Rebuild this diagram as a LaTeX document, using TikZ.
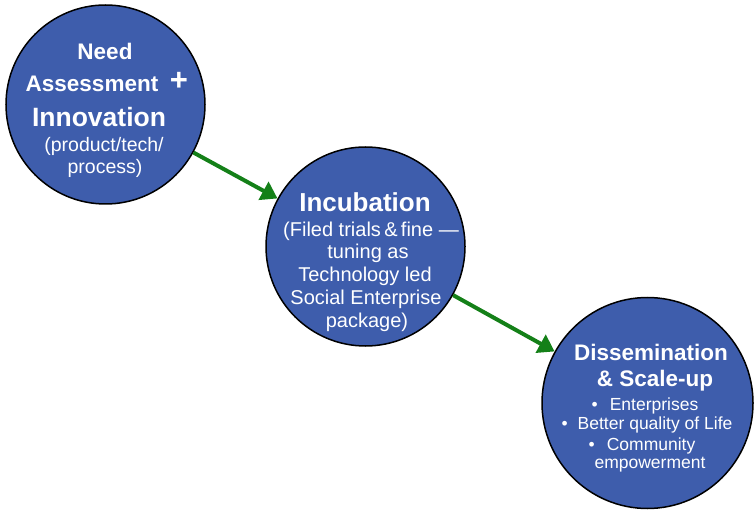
\documentclass[tikz,border=0pt]{standalone}
\usepackage{fontspec}
\setmainfont{Liberation Sans}
\usetikzlibrary{arrows.meta}
\definecolor{cblue}{RGB}{62,93,172}
\definecolor{cgreen}{RGB}{20,128,24}
\begin{document}
\begin{tikzpicture}[x=1pt,y=-1pt,
  stage/.style={circle,draw=black,line width=1.5pt,fill=cblue,inner sep=0pt},
  txt/.style={text=white,inner sep=0pt,anchor=center},
  flow/.style={draw=cgreen,line width=4pt,-{Triangle[length=16pt,width=20pt]}}]
\useasboundingbox (0,0) rectangle (754,510);
\node[stage,minimum size=199pt] (c1) at (105.5,104.5) {};
\node[stage,minimum size=199pt] (c2) at (365.5,246.5) {};
\node[stage,minimum size=211pt] (c3) at (647.5,403) {};
\draw[flow] (c1) -- (c2);
\draw[flow] (c2) -- (c3);
% circle 1
\node[txt,font=\fontsize{22.5}{26}\selectfont\bfseries] (t11) at (105,51) {Need};
\node[txt,font=\fontsize{22.5}{26}\selectfont\bfseries] (t12) at (92,84) {Assessment};
\node[txt,font=\fontsize{31}{32}\selectfont\bfseries] (t13) at (179,81) {+};
\node[txt,font=\fontsize{26.5}{30}\selectfont\bfseries] (t14) at (99,117) {Innovation};
\node[txt,font=\fontsize{19.5}{22}\selectfont] (t15) at (104,146) {(product/tech/};
\node[txt,font=\fontsize{19.5}{22}\selectfont] (t16) at (105,168) {process)};
% circle 2
\node[txt,font=\fontsize{26}{30}\selectfont\bfseries] (t21) at (365,202) {Incubation};
\node[txt,font=\fontsize{20}{23}\selectfont] (t22) at (371,231) {(Filed trials\,\&\,fine —};
\node[txt,font=\fontsize{20}{23}\selectfont] (t23) at (368,253) {tuning as};
\node[txt,font=\fontsize{20}{23}\selectfont] (t24) at (365,276) {Technology led};
\node[txt,font=\fontsize{20}{23}\selectfont] (t25) at (366,299) {Social Enterprise};
\node[txt,font=\fontsize{20}{23}\selectfont] (t26) at (367,322) {package)};
% circle 3
\node[txt,font=\fontsize{22.5}{26}\selectfont\bfseries] (t31) at (651,352) {Dissemination};
\node[txt,font=\fontsize{22.5}{26}\selectfont\bfseries] (t32) at (655,381) {\&\ Scale-up};
\node[txt,font=\fontsize{17.5}{20}\selectfont] (t33) at (645,406) {•\hspace{12pt}Enterprises};
\node[txt,font=\fontsize{17.5}{20}\selectfont] (t34) at (647,425) {•\hspace{10pt}Better quality of Life};
\node[txt,font=\fontsize{17.5}{20}\selectfont] (t35) at (642,446) {•\hspace{12pt}Community};
\node[txt,font=\fontsize{17.5}{20}\selectfont] (t36) at (650,465) {empowerment};
\end{tikzpicture}
\end{document}
